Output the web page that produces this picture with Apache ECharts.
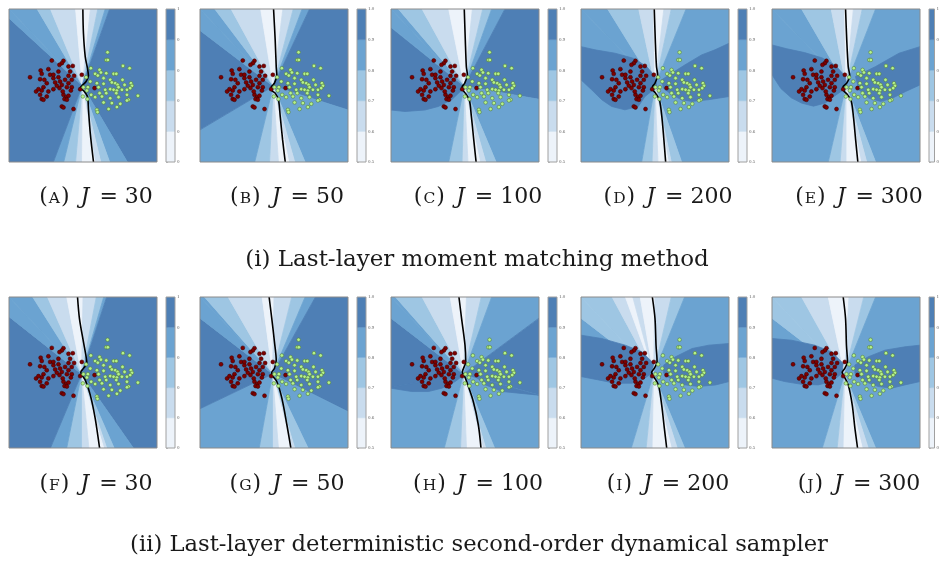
<!DOCTYPE html>
<html><head><meta charset="utf-8">
<script src="https://cdn.jsdelivr.net/npm/echarts@6/dist/echarts.min.js"></script>
<style>html,body{margin:0;padding:0;background:#fff}#c{width:942px;height:561px}</style>
</head><body><div id="c"></div>
<script>
// ---------------- DATA ----------------
const panelIds = ['A','B','C','D','E','F','G','H','I','J'];
const panelJ = [30,50,100,200,300,30,50,100,200,300];
const captionTop = '(i) Last-layer moment matching method';
const captionBottom = '(ii) Last-layer deterministic second-order dynamical sampler';
const levelColors = ['#edf3fa','#c9dcee','#9ec6e3','#6ba3d1','#4e7fb5'];
const cbTicks = [0.5,0.6,0.7,0.8,0.9,1.0];
const cbLabelChars = [1,3,3,3,1,1,3,3,3,1];

const redPoints = [[28.9,66.3],[36.8,66.1],[35.7,64.6],[34.1,63.5],[40.2,62.4],[43.1,62.8],[21.4,59.8],[26.6,60.7],[33.4,59.1],[41.3,59.1],
[22.1,57.6],[27.8,57.0],[14.2,55.4],[21.0,54.1],[23.9,53.7],[30.0,54.8],[33.4,55.4],[34.5,52.6],[42.4,53.7],[44.0,56.3],
[49.2,57.0],[25.5,51.5],[31.2,52.0],[35.7,50.4],[40.2,51.5],[23.3,48.9],[30.0,47.6],[34.1,48.3],[39.1,48.9],[42.4,48.9],
[18.3,46.1],[22.1,46.7],[26.6,46.1],[36.8,43.9],[38.6,42.4],[40.2,43.3],[37.5,41.1],[39.1,40.7],[25.5,42.8],[22.1,41.1],
[23.3,40.7],[43.6,34.6],[35.7,36.3],[36.8,35.7],[48.1,47.6],[57.8,48.3],[41.8,46.7],[19.9,47.6],[30.0,57.0],[37.9,53.7],
[40.2,56.3],[32.3,49.8],[36.3,46.1],[21.0,43.9]];
const greenPoints = [[66.6,71.7],[65.7,66.7],[66.8,66.7],[77.0,62.8],[81.5,61.3],[55.3,61.3],[61.2,60.2],[62.1,58.5],[58.2,57.6],[60.0,56.5],
[65.7,58.0],[70.7,57.6],[72.5,57.6],[63.9,54.8],[68.4,53.7],[54.9,52.6],[52.1,55.4],[59.4,51.5],[63.9,51.1],[69.5,52.0],
[71.8,51.5],[73.4,50.4],[76.7,53.7],[78.1,50.4],[82.4,51.5],[83.1,49.8],[50.3,48.9],[53.3,48.9],[60.5,48.9],[65.0,47.2],
[68.4,47.6],[70.7,47.2],[72.9,46.7],[74.0,48.9],[76.3,47.2],[79.7,47.2],[81.9,48.3],[52.6,46.7],[55.5,43.9],[61.2,45.0],
[65.7,45.0],[72.5,45.0],[79.7,43.9],[80.8,40.7],[87.1,43.3],[58.2,42.4],[62.8,42.8],[68.4,41.7],[74.0,42.4],[53.0,41.1],
[63.9,38.9],[69.5,38.5],[75.2,38.0],[72.9,35.9],[67.3,34.6],[59.4,34.1],[59.8,32.6],[79.7,40.2],[49.9,42.8]];

// contour bands: [perimeter position (0-400, clockwise from top-left), level 1..5]
const centers = [[49.5,50],[49.5,49.5],[49.5,49.5],[50,50],[50,50],[49,49],[49,49],[49,49],[49,49],[49,49]];
const bandsA = [[0,4],[19,3],[28,2],[45,1],[55,2],[60,3],[65,4],[68,5],[220,4],[232,3],[238,2],[242,1],[251,2],[255,3],[263,4],[270,5],[394,4]];
const bandsB = [[0,4],[10,3],[21,2],[41,1],[56,2],[63,3],[69,4],[74,5],[166,4],[229,3],[236,2],[240,1],[247,2],[253,3],[263,4],[321,5],[386,4]];
const bandsC = [[0,4],[5,3],[21,2],[39,1],[55,2],[62,3],[68,4],[77,5],[159,4],[229,3],[236,2],[240,1],[248,2],[252,3],[261,4],[334,5],[388,4]];
const bandsD = [[0,4],[18,3],[39,2],[49,1],[56,2],[61,3],[71,4],[232,3],[239,2],[241,1],[248,2],[252,3],[259,4]];
const bandsE = [[0,4],[20,3],[40,2],[49,1],[55,2],[61,3],[70,4],[230,3],[236,2],[240,1],[250,2],[254,3],[262,4]];
const bandsF = [[0,4],[16,3],[26,2],[39,1],[50,2],[59,3],[64,4],[66,5],[216,4],[229,3],[234,2],[236,1],[246,2],[251,3],[261,4],[272,5],[387,4]];
const bandsG = [[0,4],[3,3],[19,2],[42,1],[50,2],[62,3],[71,4],[78,5],[176,4],[227,3],[236,2],[238,1],[247,2],[251,3],[260,4],[326,5],[386,4]];
const bandsH = [[0,4],[3,3],[21,2],[40,1],[51,2],[61,3],[68,4],[114,5],[165,4],[230,3],[236,2],[238,1],[249,2],[253,3],[264,4],[340,5],[386,4]];
const bandsI = [[0,3],[21,2],[30,1],[35,2],[40,1],[50,2],[61,3],[70,4],[230,3],[235,2],[239,1],[252,2],[256,3],[266,4],[386,3]];
const bandsJ = [[0,3],[20,2],[38,1],[52,2],[62,3],[70,4],[230,3],[235,2],[239,1],[252,2],[256,3],[266,4],[386,3]];

// extra contour regions: [level, [x,y, x,y, ...]]
const blobsA = [];
const blobsB = [];
const blobsC = [[5,[0,34, 9.5,33, 23,34, 32,36.3, 41,40.7, 48,47.2, 50,50, 0,50]]];
const blobsD = [[5,[0,75.4, 9.5,73.3, 23,71.1, 35.4,67.8, 44.4,62.4, 50,55.9, 51.1,50.4, 48.9,47.2, 43.2,42.8, 38.7,36.3, 29.7,34.1, 20.7,36.3, 14,40.7, 7.2,47.2, 0,53.7]],
  [5,[54.5,53.7, 61.3,58, 70.3,63.5, 81.5,70, 90.5,73.3, 100,77.6, 100,42.8, 92.8,41.7, 86,40.7, 74.8,39.6, 68,40.7, 61.3,43.9, 55.6,48.3]]];
const blobsE = [[5,[0,76.5, 10,74, 22,71.5, 34,68, 43,63, 49.5,56, 50.5,50.5, 48,47, 42,43, 36,38.5, 28,36.5, 20,38.5, 13,42, 6,48, 0,57]],
  [5,[56.4,55.9, 70,62.4, 85.8,71.1, 100,75.4, 100,50.4, 90.3,46.1, 81.3,41.7, 73.4,39.6, 65.5,41.7, 58.7,47.2]]];
const blobsF = [];
const blobsG = [];
const blobsH = [[5,[0,40, 0,39.6, 14,37.4, 25.3,37.4, 34.4,39.6, 43.4,44, 49.1,48.4, 49,49]],
  [5,[100,35, 86.4,36.3, 75.1,37.4, 63.8,41.8, 55.9,48.4, 49,49]]];
const blobsI = [[5,[0,74.7, 14,72.5, 29.9,68.1, 41.2,63.7, 49.1,56, 48,49.5, 41.2,45.1, 34.4,42.9, 23.1,42.9, 11.8,45.1, 0,47.3]],
  [5,[55.9,54.9, 63.8,60.4, 75.1,65.9, 86.4,68.1, 100,69.2, 100,44, 91,41.8, 79.6,40.7, 70.6,41.8, 61.5,45.1, 55.9,49.5]]];
const blobsJ = [[5,[0,72.5, 13.1,71.4, 28.9,68.1, 40.2,63.7, 48.1,56, 47.4,49.5, 40.2,44, 31.2,41.8, 19.9,42.2, 8.6,44, 0,46.2]],
  [5,[56,54.9, 65,60.4, 76.3,64.8, 89.8,67, 100,68.1, 100,44, 89.8,41.8, 80.8,39.6, 71.8,40.7, 62.8,44, 56,49.5]]];

// decision boundaries
const lineA = [[49.9,100],[50.3,84.1],[51.5,68.9],[53.0,61.3],[53.7,56.3],[52.1,52.6],[49.2,49.8],[48.1,48.3],[50.3,46.7],[53.0,42.8],[53.7,34.1],[54.9,18.9],[57.1,0]];
const lineB = [[49.7,100],[50.8,79.8],[51.5,62.4],[51.9,57.0],[50.3,51.5],[48.1,48.9],[48.5,46.7],[50.8,45.0],[53.0,40.7],[54.2,29.8],[55.8,14.6],[57.6,0]];
const lineC = [[49.5,100],[50.2,79.8],[50.9,62.4],[51.6,57.0],[49.8,51.5],[48.0,48.9],[48.4,47.2],[50.2,45.0],[52.9,40.7],[54.3,29.8],[55.9,14.6],[57.5,0]];
const lineD = [[49.5,100],[50.2,79.8],[51.0,62.4],[51.8,57.0],[50.0,51.5],[48.2,48.9],[48.6,47.0],[50.5,44.8],[53.0,40.5],[54.6,29.8],[56.0,14.6],[57.2,0]];
const lineE = [[49.7,100],[50.5,79.8],[51.5,62.4],[52.5,56.5],[50.5,51.5],[47.9,48.9],[48.5,46.5],[51.0,44.0],[53.5,40.0],[55.0,29.8],[56.5,14.6],[58.0,0]];
const lineF = [[46.3,100],[47.6,85.7],[50.3,70.3],[52.1,60.4],[52.6,56.0],[50.3,52.7],[48.5,50.1],[49.2,48.4],[51.5,45.1],[54.9,35.2],[58.2,19.8],[61.2,0]];
const lineG = [[46.7,100],[48.5,85.7],[50.3,70.3],[51.5,58.2],[50.3,52.7],[48.5,50.1],[48.9,47.9],[51.9,44.0],[55.3,33.0],[58.7,15.4],[61.4,0]];
const lineH = [[45.9,100],[47.7,85.7],[50.0,68.1],[50.5,57.1],[48.2,50.1],[49.5,47.9],[51.1,44.0],[55.6,30.8],[59.0,15.4],[60.8,0]];
const lineI = [[48.2,100],[50.0,85.7],[50.7,68.1],[51.4,57.1],[49.5,52.7],[47.7,50.1],[49.1,47.3],[52.3,41.8],[54.5,28.6],[56.3,13.2],[57.9,0]];
const lineJ = [[48.1,100],[49.7,85.7],[50.3,68.1],[51.0,57.1],[49.2,52.7],[47.4,50.1],[48.8,47.3],[51.5,41.8],[54.2,28.6],[56.0,13.2],[57.8,0]];

const allBands = [bandsA,bandsB,bandsC,bandsD,bandsE,bandsF,bandsG,bandsH,bandsI,bandsJ];
const allBlobs = [blobsA,blobsB,blobsC,blobsD,blobsE,blobsF,blobsG,blobsH,blobsI,blobsJ];
const allLines = [lineA,lineB,lineC,lineD,lineE,lineF,lineG,lineH,lineI,lineJ];

// ---------------- LAYOUT ----------------
const colLeft = [9,200,391,581,772];
const rowTop = [9,297];
const rowH = [153,151];
const PW = 148, CB_OFF = 157, CB_W = 9;
const SERIF = '"DejaVu Serif", "Liberation Serif", serif';

function perimPoint(p){
  p = ((p % 400) + 400) % 400;
  if (p === 0) return [0,100];
  if (p <= 100) return [p,100];
  if (p <= 200) return [100,200-p];
  if (p <= 300) return [300-p,0];
  return [0,p-300];
}
function buildPolys(bands, blobs, c){
  const out = [];
  for (let k=0;k<bands.length;k++){
    const a = bands[k][0], b = (k+1<bands.length)? bands[k+1][0] : 400;
    const pts = [c, perimPoint(a)];
    [100,200,300].forEach(q=>{ if(q>a && q<b) pts.push(perimPoint(q)); });
    pts.push(b===400?[0,100]:perimPoint(b));
    out.push({level:bands[k][1], pts});
  }
  blobs.forEach(bl=>{
    const pts=[]; for(let m=0;m<bl[1].length;m+=2) pts.push([bl[1][m],bl[1][m+1]]);
    out.push({level:bl[0], pts});
  });
  return out;
}

const grids=[], xAxes=[], yAxes=[], series=[], graphics=[];
panelIds.forEach((id,i)=>{
  const r = i<5?0:1, c = i%5;
  const left = colLeft[c], top = rowTop[r], h = rowH[r];
  grids.push({left, top, width:PW, height:h, show:true, borderColor:'#8a8a8a', borderWidth:1, z:10, backgroundColor:'transparent'});
  xAxes.push({type:'value', gridIndex:2*i, min:0, max:100, show:false});
  yAxes.push({type:'value', gridIndex:2*i, min:0, max:100, show:false});
  grids.push({left:left+CB_OFF, top, width:CB_W, height:h, show:true, borderColor:'#a0a0a0', borderWidth:1, z:10, backgroundColor:'transparent'});
  xAxes.push({type:'value', gridIndex:2*i+1, min:0, max:1, show:false});
  yAxes.push({type:'value', gridIndex:2*i+1, min:0.5, max:1.0, interval:0.1, position:'right',
    axisLine:{show:false}, splitLine:{show:false},
    axisTick:{show:true, length:2, lineStyle:{color:'#999', width:0.6}},
    axisLabel:{fontSize:5, margin:2, color:'#666', fontFamily:'"Liberation Serif", serif', formatter:v=>v.toFixed(1).slice(0,cbLabelChars[i])}});

  const polys = buildPolys(allBands[i], allBlobs[i], centers[i]);
  series.push({type:'custom', xAxisIndex:2*i, yAxisIndex:2*i, clip:true, silent:true, z:1,
    data: polys.map(()=>[50,50]),
    renderItem:(params,api)=>{
      const p = polys[params.dataIndex]; const col = levelColors[p.level-1];
      return {type:'polygon', shape:{points:p.pts.map(q=>api.coord(q))}, style:{fill:col, stroke:col, lineWidth:0.8}};
    }});
  series.push({type:'line', xAxisIndex:2*i, yAxisIndex:2*i, data:allLines[i], showSymbol:false, smooth:0.3, silent:true, z:3,
    lineStyle:{color:'#000', width:1.6}});
  series.push({type:'scatter', xAxisIndex:2*i, yAxisIndex:2*i, data:redPoints, symbolSize:4, silent:true, z:4,
    itemStyle:{color:'#7d0000', borderColor:'#3a0000', borderWidth:0.5, opacity:1}});
  series.push({type:'scatter', xAxisIndex:2*i, yAxisIndex:2*i, data:greenPoints, symbolSize:3.6, silent:true, z:4,
    itemStyle:{color:'#b5f28c', borderColor:'#557f3a', borderWidth:0.6, opacity:1}});
  series.push({type:'custom', xAxisIndex:2*i+1, yAxisIndex:2*i+1, clip:true, silent:true, z:1,
    data: cbTicks.slice(0,5).map(t=>[0.5,t]),
    renderItem:(params,api)=>{
      const t = cbTicks[params.dataIndex], t2 = cbTicks[params.dataIndex+1];
      const p1 = api.coord([0,t2]), p2 = api.coord([1,t]);
      return {type:'rect', shape:{x:p1[0], y:p1[1], width:p2[0]-p1[0], height:p2[1]-p1[1]},
        style:{fill:levelColors[params.dataIndex], stroke:levelColors[params.dataIndex], lineWidth:0.5}};
    }});

  graphics.push({type:'text', x:left+87, y: r?484:197, z:100,
    style:{text:'{p|(}{sc|'+id+'}{p|)}{it|J} = '+panelJ[i], fontFamily:SERIF, fontSize:22, fill:'#1a1a1a',
      align:'center', verticalAlign:'middle',
      rich:{p:{fontFamily:SERIF, fontSize:22, verticalAlign:'bottom'}, sc:{fontFamily:SERIF, fontSize:15.5, verticalAlign:'bottom', padding:[0,1,1,1]}, it:{fontFamily:SERIF, fontSize:22, fontStyle:'italic', verticalAlign:'bottom', padding:[0,3,0,11]}}}});
});
graphics.push({type:'text', x:477, y:260, z:100, style:{text:captionTop, fontFamily:SERIF, fontSize:23, fill:'#1a1a1a', align:'center', verticalAlign:'middle'}});
graphics.push({type:'text', x:479, y:545, z:100, style:{text:captionBottom, fontFamily:SERIF, fontSize:22.7, fill:'#1a1a1a', align:'center', verticalAlign:'middle'}});

const chart = echarts.init(document.getElementById('c'), null, {renderer:'canvas', width:942, height:561});
chart.setOption({animation:false, backgroundColor:'#fff', grid:grids, xAxis:xAxes, yAxis:yAxes, series, graphic:graphics});
</script></body></html>
